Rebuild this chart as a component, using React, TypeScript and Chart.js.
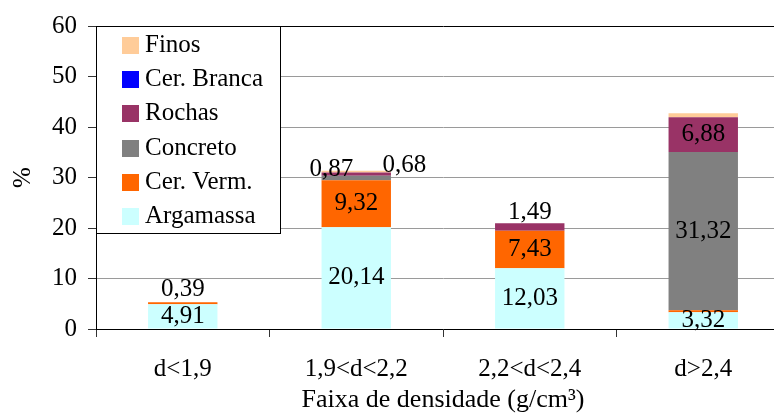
import React, { useEffect, useRef } from "react";
import { Chart, registerables } from "chart.js";

Chart.register(...registerables);

// ---- data ----
const categories = ["d<1,9", "1,9<d<2,2", "2,2<d<2,4", "d>2,4"];
const argamassa = [4.91, 20.14, 12.03, 3.32];
const cerVerm = [0.39, 9.32, 7.43, 0.4];
const concreto = [0, 0.87, 0, 31.32];
const rochas = [0, 0.68, 1.49, 6.88];
const cerBranca = [0, 0, 0, 0];
const finos = [0, 0.35, 0, 0.8];
const yTicks = [0, 10, 20, 30, 40, 50, 60];

// which segments carry a value label
const showArgamassa = [true, true, true, true];
const showCerVerm = [true, true, true, false];
const showConcreto = [false, true, false, true];
const showRochas = [false, true, true, true];
const showCerBranca = [false, false, false, false];
const showFinos = [false, false, false, false];

// label nudges (px) for small segments, keyed "series:index"
const LABEL_NUDGE: Record<string, [number, number]> = {
  "1:0": [0, -14],
  "2:1": [-25, -8.5],
  "3:1": [48, -8.5],
  "3:2": [0, -14.5],
};

const FONT_FAMILY = "'Liberation Serif', 'Times New Roman', serif";
const FS = 25;

const series = [
  { label: "Argamassa", data: argamassa, color: "#CCFFFF", show: showArgamassa },
  { label: "Cer. Verm.", data: cerVerm, color: "#FF6600", show: showCerVerm },
  { label: "Concreto", data: concreto, color: "#808080", show: showConcreto },
  { label: "Rochas", data: rochas, color: "#993366", show: showRochas },
  { label: "Cer. Branca", data: cerBranca, color: "#0000FF", show: showCerBranca },
  { label: "Finos", data: finos, color: "#FFCC99", show: showFinos },
];

const dataLabelPlugin = {
  id: "segLabels",
  afterDatasetsDraw(chart: any) {
    const { ctx } = chart;
    ctx.save();
    ctx.font = `${FS}px ${FONT_FAMILY}`;
    ctx.fillStyle = "#000";
    ctx.textAlign = "center";
    ctx.textBaseline = "middle";
    series.forEach((s, di) => {
      const meta = chart.getDatasetMeta(di);
      meta.data.forEach((bar: any, i: number) => {
        if (!s.show[i]) return;
        const v = s.data[i];
        const p = bar.getProps(["x", "y", "base"], true);
        const nudge = LABEL_NUDGE[`${di}:${i}`] || [0, 0];
        const cx = p.x + nudge[0];
        const cy = (p.y + p.base) / 2 + nudge[1];
        ctx.fillText(v.toFixed(2).replace(".", ","), cx, cy);
      });
    });
    ctx.restore();
  },
};

const boxLegendPlugin = {
  id: "boxLegend",
  afterDraw(chart: any) {
    const { ctx, chartArea } = chart;
    const x0 = chartArea.left;
    const y0 = chartArea.top;
    const w = 184;
    const h = 207;
    ctx.save();
    ctx.fillStyle = "#fff";
    ctx.fillRect(x0, y0, w, h);
    ctx.strokeStyle = "#000";
    ctx.lineWidth = 1;
    ctx.strokeRect(x0 + 0.5, y0 + 0.5, w, h);
    const items = chart.data.datasets.slice().reverse();
    ctx.font = `${FS}px ${FONT_FAMILY}`;
    ctx.textBaseline = "middle";
    ctx.textAlign = "left";
    items.forEach((ds: any, i: number) => {
      const cy = y0 + 19.5 + i * 34.2;
      ctx.fillStyle = ds.backgroundColor;
      ctx.fillRect(x0 + 26, Math.round(cy - 8.5), 17, 17);
      ctx.fillStyle = "#000";
      ctx.fillText(ds.label, x0 + 49, cy);
    });
    ctx.restore();
  },
};

export default function App() {
  const ref = useRef<HTMLCanvasElement | null>(null);

  useEffect(() => {
    if (!ref.current) return;
    const chart = new Chart(ref.current, {
      type: "bar",
      data: {
        labels: categories,
        datasets: series.map((s) => ({
          label: s.label,
          data: s.data,
          backgroundColor: s.color,
          borderWidth: 0,
          barPercentage: 0.4,
          categoryPercentage: 1,
        })),
      },
      options: {
        responsive: false,
        animation: false,
        layout: { padding: { top: 23, left: 0, right: 10, bottom: 0 } },
        plugins: {
          legend: { display: false },
          tooltip: { enabled: false },
        },
        scales: {
          x: {
            stacked: true,
            offset: true,
            grid: {
              display: true,
              offset: true,
              drawOnChartArea: false,
              drawTicks: true,
              tickLength: 8,
              tickColor: "#333",
            },
            border: { display: true, color: "#000", width: 1 },
            ticks: {
              color: "#000",
              font: { family: FONT_FAMILY, size: FS },
              padding: 17,
              maxRotation: 0,
            },
            title: {
              display: true,
              text: "Faixa de densidade (g/cm³)",
              color: "#000",
              font: { family: FONT_FAMILY, size: 26 },
              padding: { top: 0, bottom: -2 },
            },
            afterFit(scale: any) {
              scale.height = 85;
            },
          },
          y: {
            stacked: true,
            min: 0,
            max: 60,
            afterBuildTicks(scale: any) {
              scale.ticks = yTicks.map((v) => ({ value: v }));
            },
            grid: {
              color: (c: any) => (c.tick && c.tick.value === 60 ? "#000" : "#9a9a9a"),
              lineWidth: 1,
              tickLength: 8,
              tickColor: "#333",
            },
            border: { display: true, color: "#000", width: 1 },
            ticks: {
              color: "#000",
              font: { family: FONT_FAMILY, size: FS },
              padding: 11,
            },
            title: {
              display: true,
              text: "%",
              color: "#000",
              font: { family: FONT_FAMILY, size: FS },
              padding: { top: 8, bottom: 0 },
            },
            afterFit(scale: any) {
              scale.width = 96;
            },
          },
        },
      },
      plugins: [dataLabelPlugin, boxLegendPlugin],
    });
    return () => chart.destroy();
  }, []);

  return (
    <div
      style={{
        position: "fixed",
        left: 0,
        top: 0,
        width: 774,
        height: 414,
        overflow: "hidden",
        background: "#fff",
      }}
    >
      <canvas ref={ref} width={800} height={414} style={{ display: "block" }} />
    </div>
  );
}
